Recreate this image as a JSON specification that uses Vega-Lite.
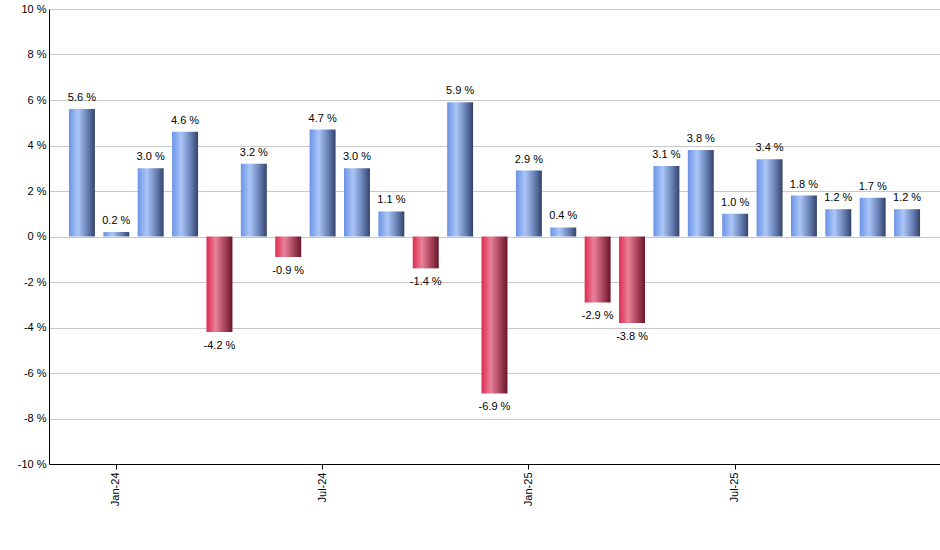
{
  "$schema": "https://vega.github.io/schema/vega-lite/v6.json",
  "width": 891,
  "height": 455,
  "autosize": "none",
  "padding": {"left": 49, "top": 9, "right": 0, "bottom": 86},
  "background": "white",
  "config": {
    "font": "Liberation Sans",
    "view": {"stroke": null},
    "axis": {"labelFont": "Liberation Sans", "labelFontSize": 11, "labelColor": "#000000"}
  },
  "data": {
    "values": [
      {"month": "Dec-23", "change": 5.6},
      {"month": "Jan-24", "change": 0.2},
      {"month": "Feb-24", "change": 3.0},
      {"month": "Mar-24", "change": 4.6},
      {"month": "Apr-24", "change": -4.2},
      {"month": "May-24", "change": 3.2},
      {"month": "Jun-24", "change": -0.9},
      {"month": "Jul-24", "change": 4.7},
      {"month": "Aug-24", "change": 3.0},
      {"month": "Sep-24", "change": 1.1},
      {"month": "Oct-24", "change": -1.4},
      {"month": "Nov-24", "change": 5.9},
      {"month": "Dec-24", "change": -6.9},
      {"month": "Jan-25", "change": 2.9},
      {"month": "Feb-25", "change": 0.4},
      {"month": "Mar-25", "change": -2.9},
      {"month": "Apr-25", "change": -3.8},
      {"month": "May-25", "change": 3.1},
      {"month": "Jun-25", "change": 3.8},
      {"month": "Jul-25", "change": 1.0},
      {"month": "Aug-25", "change": 3.4},
      {"month": "Sep-25", "change": 1.8},
      {"month": "Oct-25", "change": 1.2},
      {"month": "Nov-25", "change": 1.7},
      {"month": "Dec-25", "change": 1.2}
    ]
  },
  "transform": [
    {"calculate": "(datum.change < 0 ? '-' : '') + format(abs(datum.change), '.1f') + ' %'", "as": "label"}
  ],
  "encoding": {
    "x": {
      "field": "month",
      "type": "ordinal",
      "sort": null,
      "scale": {
        "domain": ["Dec-23", "Jan-24", "Feb-24", "Mar-24", "Apr-24", "May-24", "Jun-24", "Jul-24", "Aug-24", "Sep-24", "Oct-24", "Nov-24", "Dec-24", "Jan-25", "Feb-25", "Mar-25", "Apr-25", "May-25", "Jun-25", "Jul-25", "Aug-25", "Sep-25", "Oct-25", "Nov-25", "Dec-25"],
        "paddingInner": 0.245,
        "paddingOuter": 0.58
      },
      "axis": {
        "title": null,
        "values": ["Jan-24", "Jul-24", "Jan-25", "Jul-25"],
        "labelAngle": -90,
        "domainColor": "#000000",
        "tickColor": "#000000",
        "tickSize": 5,
        "labelPadding": 3,
        "grid": false
      }
    },
    "y": {
      "field": "change",
      "type": "quantitative",
      "scale": {"domain": [-10, 10], "nice": false},
      "axis": {
        "title": null,
        "values": [-10, -8, -6, -4, -2, 0, 2, 4, 6, 8, 10],
        "labelExpr": "datum.value + ' %'",
        "domainColor": "#000000",
        "ticks": false,
        "labelPadding": 3,
        "gridColor": "#c8c8c8"
      }
    }
  },
  "layer": [
    {
      "transform": [{"filter": "datum.change >= 0"}],
      "mark": {
        "type": "bar",
        "color": {
          "gradient": "linear",
          "x1": 0, "y1": 0, "x2": 1, "y2": 0,
          "stops": [
            {"offset": 0, "color": "#6b93e6"},
            {"offset": 0.35, "color": "#abc6f7"},
            {"offset": 0.7, "color": "#6a84b8"},
            {"offset": 1, "color": "#34426a"}
          ]
        }
      },
      "encoding": {"y2": {"datum": 0}}
    },
    {
      "transform": [{"filter": "datum.change < 0"}],
      "mark": {
        "type": "bar",
        "color": {
          "gradient": "linear",
          "x1": 0, "y1": 0, "x2": 1, "y2": 0,
          "stops": [
            {"offset": 0, "color": "#df2a50"},
            {"offset": 0.35, "color": "#e98199"},
            {"offset": 0.7, "color": "#a8465e"},
            {"offset": 1, "color": "#6a1628"}
          ]
        }
      },
      "encoding": {"y2": {"datum": 0}}
    },
    {
      "transform": [{"filter": "datum.change >= 0"}],
      "mark": {"type": "text", "baseline": "bottom", "dy": -6, "fontSize": 11, "color": "#000000"},
      "encoding": {"text": {"field": "label"}}
    },
    {
      "transform": [{"filter": "datum.change < 0"}],
      "mark": {"type": "text", "baseline": "top", "dy": 8, "fontSize": 11, "color": "#000000"},
      "encoding": {"text": {"field": "label"}}
    }
  ]
}
